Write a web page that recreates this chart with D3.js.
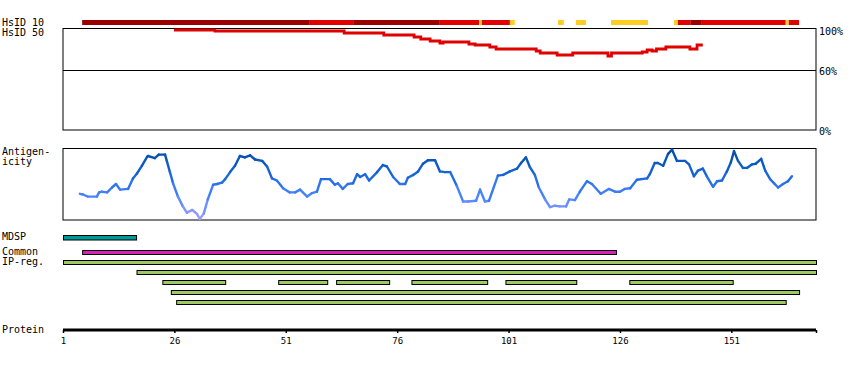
<!DOCTYPE html>
<html><head><meta charset="utf-8">
<script src="https://cdn.jsdelivr.net/npm/d3@7"></script>
<style>body{margin:0;background:#fff}text{font-family:"DejaVu Sans Mono",monospace;fill:#000}</style>
</head><body><svg id="c" width="850" height="370"></svg>
<script>
// ---------- data ----------
const proteinLength = 170;
const axisTicks = [1, 26, 51, 76, 101, 126, 151];
const pctTicks = [100, 60, 0];

// HsID 10 identity blocks: start, end (residues), class 0=dark red,1=red,2=yellow
const hsid10Start = [5.3, 56.4, 66.3, 85.4, 94.4, 95.0, 101.3, 112.1, 116.1, 124.0, 138.1, 139.0, 141.9, 144.2, 163.2, 163.9];
const hsid10End   = [56.4, 66.3, 85.4, 94.4, 95.0, 101.3, 102.4, 113.4, 118.4, 132.3, 139.0, 141.9, 144.2, 163.2, 163.9, 166.2];
const hsid10Class = [0, 1, 0, 1, 2, 1, 2, 2, 2, 2, 2, 1, 0, 1, 2, 1];

// HsID 50 identity (%) step line
const hsid50Res = [25.9, 35.1, 64.1, 73.0, 79.8, 81.3, 83.4, 85.6, 86.3, 92.1, 93.5, 96.8, 98.2, 107.2, 108.1, 111.9, 115.4, 123.3, 124.1, 131.0, 132.1, 133.2, 134.2, 136.3, 141.7, 143.3, 144.6];
const hsid50Pct = [100, 99, 97, 95, 93, 91, 89, 87, 88, 86, 85, 83, 81, 79, 77, 75, 77, 74, 77, 78, 80, 79, 81, 83, 81, 85, 85];

// Antigenicity profile (0 = low, 1 = high)
const antiRes = [4.8,5.5,6.6,8.6,9.1,9.7,10.9,12.0,12.9,13.8,15.6,16.7,17.6,18.7,19.9,20.1,21.6,22.5,23.9,24.3,25.0,25.7,26.8,27.9,28.8,30.0,31.1,31.7,32.6,33.5,34.7,35.6,36.7,37.4,38.5,39.6,40.7,41.8,43.0,44.1,45.7,46.8,47.9,49.0,50.4,51.9,53.1,54.2,55.8,56.9,58.0,58.9,60.9,62.0,62.7,63.8,64.9,66.1,67.0,67.7,68.8,69.7,71.5,72.8,73.7,75.1,76.6,77.8,78.4,79.6,80.7,81.8,82.9,84.5,85.6,86.7,87.9,89.4,90.8,91.9,93.7,94.6,95.7,96.6,98.6,99.8,101.3,102.9,103.8,104.9,105.8,106.9,107.8,109.2,110.3,111.4,112.5,113.9,114.6,115.9,117.0,118.6,119.7,121.7,123.5,124.9,126.0,127.1,128.3,129.8,132.1,132.7,133.8,134.5,135.7,136.8,137.7,138.8,140.6,141.5,142.6,143.5,144.6,145.5,146.9,147.8,148.9,150.0,150.9,151.6,152.5,153.6,154.5,155.6,156.5,157.7,158.6,159.7,160.6,161.5,162.6,163.7,164.6];
const antiVal = [0.36,0.35,0.32,0.32,0.38,0.39,0.38,0.45,0.50,0.42,0.43,0.58,0.65,0.76,0.89,0.90,0.87,0.92,0.92,0.83,0.67,0.51,0.32,0.18,0.09,0.13,0.07,0.00,0.08,0.28,0.49,0.50,0.52,0.57,0.67,0.76,0.90,0.88,0.91,0.85,0.83,0.75,0.58,0.55,0.44,0.38,0.38,0.42,0.32,0.37,0.39,0.57,0.57,0.49,0.51,0.43,0.50,0.51,0.64,0.60,0.64,0.55,0.67,0.77,0.75,0.60,0.50,0.50,0.59,0.63,0.68,0.79,0.84,0.84,0.68,0.67,0.67,0.47,0.25,0.25,0.26,0.42,0.25,0.26,0.62,0.63,0.68,0.72,0.80,0.88,0.74,0.63,0.45,0.28,0.17,0.19,0.18,0.18,0.28,0.27,0.39,0.54,0.50,0.36,0.43,0.39,0.39,0.43,0.44,0.56,0.58,0.64,0.80,0.80,0.76,0.93,0.99,0.83,0.83,0.78,0.61,0.69,0.72,0.61,0.46,0.54,0.55,0.68,0.81,0.97,0.83,0.73,0.73,0.78,0.79,0.86,0.69,0.57,0.51,0.45,0.50,0.54,0.61];

// Feature tracks: [start, end] residues
const mdspRegions = [[1, 17.4]];
const commonRegions = [[5.3, 125.1]];
const ipRow1 = [[1, 170]];
const ipRow2 = [[17.5, 170]];
const ipRow3 = [[23.3, 37.4], [49.3, 60.3], [62.3, 74.2], [79.2, 96.2], [100.3, 116.2], [128.1, 151.3]];
const ipRow4 = [[25.2, 166.2]];
const ipRow5 = [[26.4, 163.2]];

// ---------- drawing ----------
const svg = d3.select("#c");
const x = d3.scaleLinear().domain([1, proteinLength]).range([63, 816]);
const yPct = d3.scaleLinear().domain([0, 100]).range([130, 30]);
const yAg = d3.scaleLinear().domain([0, 1]).range([219, 149]);
const hsColors = ["#9b0000", "#e00000", "#ffcc22"];
const agColor = d3.scaleLinear().domain([0, 0.3, 0.6, 1])
  .range(["#a39dff", "#5088ff", "#1b68e0", "#004a9e"]).clamp(true);

function label(t, lx, ly, size) {
  svg.append("text").attr("x", lx).attr("y", ly).attr("font-size", size || 10).text(t);
}

// Labels
label("HsID 10", 2, 26);
label("HsID 50", 2, 36);
label("Antigen-", 2, 155);
label("icity", 2, 165);
label("MDSP", 2, 240);
label("Common", 2, 255);
label("IP-reg.", 2, 265);
label("Protein", 2, 333);

// HsID 10 blocks
svg.append("g").selectAll("rect").data(hsid10Start).join("rect")
  .attr("x", (d) => x(d))
  .attr("width", (d, i) => x(hsid10End[i]) - x(d))
  .attr("y", 20).attr("height", 5)
  .attr("fill", (d, i) => hsColors[hsid10Class[i]]);

// HsID 50 box
svg.append("rect").attr("x", x(1)).attr("y", 28.5).attr("width", x(proteinLength) - x(1))
  .attr("height", yPct(0) - 28.5).attr("fill", "none").attr("stroke", "#000");
svg.append("line").attr("x1", x(1)).attr("x2", x(proteinLength))
  .attr("y1", yPct(60) + 0.5).attr("y2", yPct(60) + 0.5).attr("stroke", "#000");
pctTicks.forEach((p) => label(p + "%", 819, yPct(p) + 5));

const hsLine = d3.line().x((d) => x(d)).y((d, i) => yPct(hsid50Pct[i])).curve(d3.curveStepAfter);
svg.append("path").attr("d", hsLine(hsid50Res)).attr("fill", "none")
  .attr("stroke", "#e00000").attr("stroke-width", 2.8);

// Antigenicity box
svg.append("rect").attr("x", x(1)).attr("y", 148.5).attr("width", x(proteinLength) - x(1))
  .attr("height", 71.5).attr("fill", "none").attr("stroke", "#000");
const agG = svg.append("g");
for (let i = 0; i < antiRes.length - 1; i++) {
  agG.append("line")
    .attr("x1", x(antiRes[i])).attr("y1", yAg(antiVal[i]))
    .attr("x2", x(antiRes[i + 1])).attr("y2", yAg(antiVal[i + 1]))
    .attr("stroke", agColor((antiVal[i] + antiVal[i + 1]) / 2))
    .attr("stroke-width", 2.4).attr("stroke-linecap", "round");
}

// Feature tracks
function track(regions, y0, h, color) {
  svg.append("g").selectAll("rect").data(regions).join("rect")
    .attr("x", (d) => x(d[0]) + 0.5).attr("width", (d) => x(d[1]) - x(d[0]))
    .attr("y", y0).attr("height", h)
    .attr("fill", color).attr("stroke", "#000").attr("stroke-width", 1);
}
track(mdspRegions, 235.5, 4.5, "#009999");
track(commonRegions, 250.5, 4, "#d622b5");
const green = "#9dcb62";
track(ipRow1, 260.5, 4, green);
track(ipRow2, 270.5, 4, green);
track(ipRow3, 280.5, 4, green);
track(ipRow4, 290.5, 4, green);
track(ipRow5, 300.5, 4, green);

// Protein axis
svg.append("line").attr("x1", x(1)).attr("x2", x(proteinLength))
  .attr("y1", 330).attr("y2", 330).attr("stroke", "#000").attr("stroke-width", 3);
const axis = d3.axisBottom(x).tickValues(axisTicks.concat([proteinLength]))
  .tickSize(3).tickFormat((d) => (axisTicks.includes(d) ? d : ""));
const ax = svg.append("g").attr("transform", "translate(0,330)").call(axis);
ax.select(".domain").remove();
ax.selectAll(".tick line").attr("stroke", "#000").attr("stroke-width", 1.5);
ax.selectAll(".tick text").attr("font-family", "DejaVu Sans Mono").attr("font-size", 9)
  .attr("dy", 0).attr("y", 14).attr("fill", "#000");
</script></body></html>
